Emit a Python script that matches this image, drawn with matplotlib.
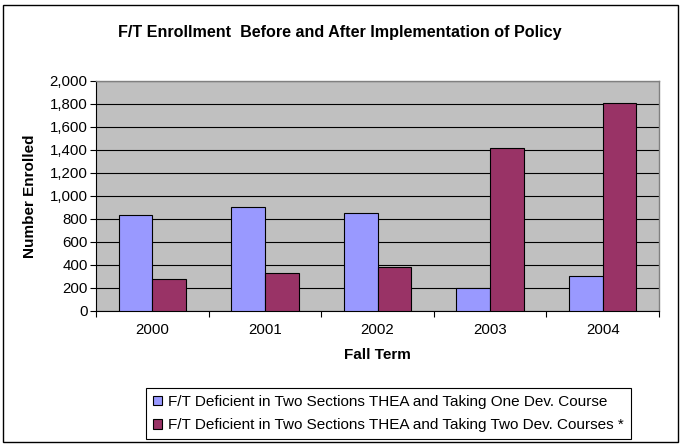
import matplotlib
matplotlib.use("Agg")
import matplotlib.pyplot as plt
import numpy as np
from matplotlib.patches import Rectangle

years = ["2000", "2001", "2002", "2003", "2004"]
one_course = [830, 902, 850, 197, 299]
two_courses = [278, 330, 383, 1412, 1809]
series_labels = [
    "F/T Deficient in Two Sections THEA and Taking One Dev. Course",
    "F/T Deficient in Two Sections THEA and Taking Two Dev. Courses *",
]
yticks = list(range(0, 2001, 200))

plt.rcParams['font.family'] = ['Liberation Sans', 'DejaVu Sans']

W, H = 681, 447
fig = plt.figure(figsize=(W / 100, H / 100), dpi=100)
fig.patch.set_facecolor('white')

# outer chart border
fig.add_artist(Rectangle((3 / W, 5 / H), 675 / W, (H - 10) / H, transform=fig.transFigure,
                         fill=False, edgecolor='black', linewidth=1.0))

ax = fig.add_axes([96 / W, 1 - 310.7 / H, 563 / W, 230 / H])
ax.set_facecolor('#C0C0C0')

x = np.arange(len(years))
w = 0.30
b1 = ax.bar(x - w / 2, one_course, w, color='#9999FF', edgecolor='black', linewidth=0.8,
            label=series_labels[0], zorder=3)
b2 = ax.bar(x + w / 2, two_courses, w, color='#993366', edgecolor='black', linewidth=0.8,
            label=series_labels[1], zorder=3)

ax.set_xlim(-0.5, len(years) - 0.5)
ax.set_ylim(0, 2000)
ax.set_yticks(yticks)
ax.set_yticklabels([f"{v:,}" for v in yticks], fontsize=10.8)
ax.yaxis.grid(True, color='black', linewidth=0.8, zorder=1)
ax.set_axisbelow(True)

# x ticks: labels centered, tick marks between categories
ax.set_xticks(x)
ax.set_xticklabels(years, fontsize=10.8)
ax.tick_params(axis='x', which='major', length=0, pad=9)
ax.set_xticks(np.arange(len(years) + 1) - 0.5, minor=True)
ax.tick_params(axis='x', which='minor', length=4, direction='out', width=0.8)
ax.tick_params(axis='y', length=4, direction='out', width=0.8, pad=2)

for s in ['top', 'right']:
    ax.spines[s].set_color('#808080')
    ax.spines[s].set_linewidth(1.0)
for s in ['left', 'bottom']:
    ax.spines[s].set_color('black')
    ax.spines[s].set_linewidth(0.8)

ax.set_xlabel("Fall Term", fontsize=11, fontweight='bold', labelpad=8)
fig.text(30.5 / W, 1 - 196 / H, "Number Enrolled", rotation=90, ha='center', va='center',
         fontsize=11, fontweight='bold')

fig.text(340 / W, 1 - 32 / H, "F/T Enrollment  Before and After Implementation of Policy",
         ha='center', va='center', fontsize=11.6, fontweight='bold')

leg = fig.legend(handles=[b1, b2], labels=series_labels, loc='upper left',
                 bbox_to_anchor=(146 / W, 1 - 388 / H), fontsize=11,
                 frameon=True, fancybox=False, edgecolor='black', framealpha=1,
                 handlelength=0.6, handleheight=0.6, handletextpad=0.4,
                 borderpad=0.45, labelspacing=0.6, borderaxespad=0)
leg.get_frame().set_linewidth(0.8)

fig.savefig("out.png", dpi=100, facecolor='white')
